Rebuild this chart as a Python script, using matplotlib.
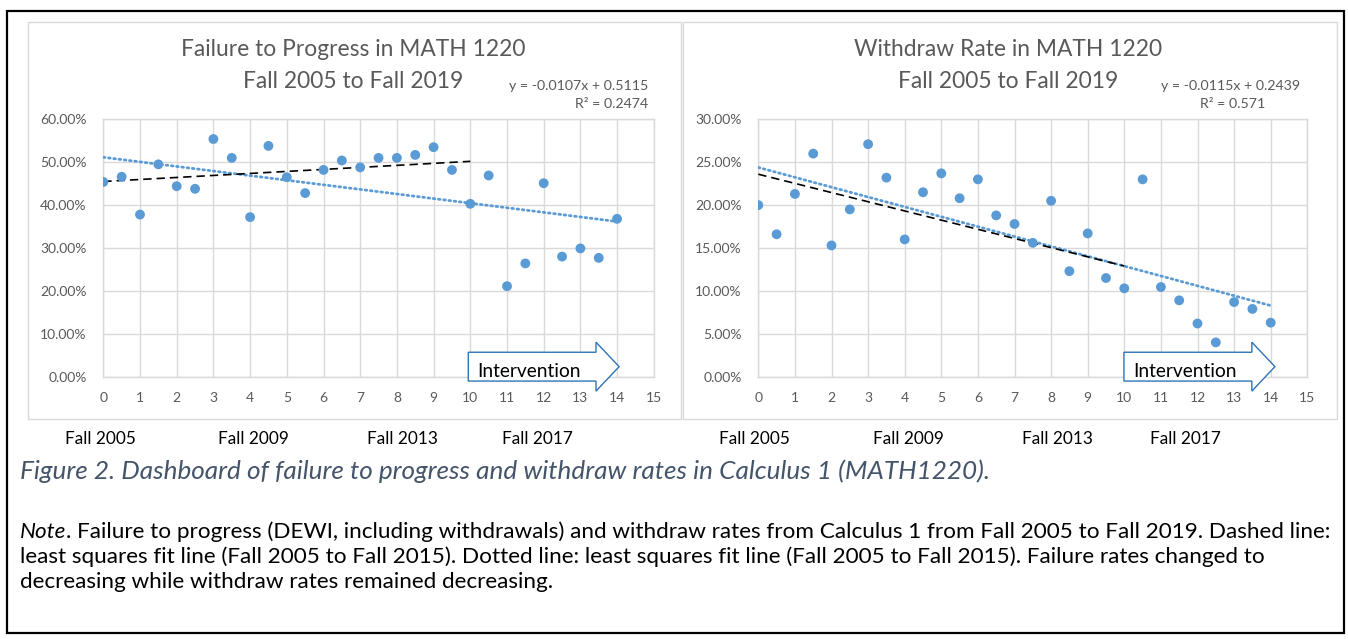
import numpy as np
import matplotlib
matplotlib.use("Agg")
import matplotlib.pyplot as plt
from matplotlib.patches import Rectangle, Polygon
from matplotlib.ticker import PercentFormatter, MultipleLocator

plt.rcParams['font.family'] = ['Lato', 'DejaVu Sans']

# ---------------- data ----------------
x_vals = [0, 0.5, 1, 1.5, 2, 2.5, 3, 3.5, 4, 4.5, 5, 5.5, 6, 6.5, 7, 7.5,
          8, 8.5, 9, 9.5, 10, 10.5, 11, 11.5, 12, 12.5, 13, 13.5, 14]
failure_rate = [45.4, 46.6, 37.8, 49.5, 44.4, 43.8, 55.4, 51.0, 37.2, 53.8,
                46.5, 42.8, 48.2, 50.4, 48.8, 51.0, 51.0, 51.7, 53.5, 48.2,
                40.3, 46.9, 21.1, 26.4, 45.1, 28.0, 29.9, 27.7, 36.8]
withdraw_rate = [20.0, 16.6, 21.3, 26.0, 15.3, 19.5, 27.1, 23.2, 16.0, 21.5,
                 23.7, 20.8, 23.0, 18.8, 17.8, 15.6, 20.5, 12.3, 16.7, 11.5,
                 10.3, 23.0, 10.45, 8.9, 6.2, 4.0, 8.7, 7.9, 6.3]
# dotted trendline equations shown on chart (slope, intercept; fraction units)
fail_trend = (-0.0107, 0.5115)
fail_r2 = "0.2474"
wd_trend = (-0.0115, 0.2439)
wd_r2 = "0.571"
# dashed least squares fit lines (Fall 2005 to Fall 2015)
fail_pre_fit = (0.0047, 0.455)
wd_pre_fit = (-0.0107, 0.236)
pre_range = (0, 10)
trend_range = (0, 14)
fall_labels = ["Fall 2005", "Fall 2009", "Fall 2013", "Fall 2017"]
titles = [("Failure to Progress in MATH 1220", "Fall 2005 to Fall 2019"),
          ("Withdraw Rate in MATH 1220", "Fall 2005 to Fall 2019")]
caption = "Figure 2. Dashboard of failure to progress and withdraw rates in Calculus 1 (MATH1220)."
note_lines = [". Failure to progress (DEWI, including withdrawals) and withdraw rates from Calculus 1 from Fall 2005 to Fall 2019. Dashed line:",
              "least squares fit line (Fall 2005 to Fall 2015). Dotted line: least squares fit line (Fall 2005 to Fall 2015). Failure rates changed to",
              "decreasing while withdraw rates remained decreasing."]

# ---------------- layout ----------------
W, H = 1348, 639
fig = plt.figure(figsize=(W / 100, H / 100), dpi=100)

def fx(px):
    return px / W

def fy(py):
    return 1 - py / H

# outer black frame
fig.patches.append(Rectangle((fx(7), fy(633)), fx(1344) - fx(7), fy(11) - fy(633),
                             transform=fig.transFigure, fill=False, ec='black', lw=1.6))
# chart boxes
for (x0, x1) in [(28, 681), (683, 1337)]:
    fig.patches.append(Rectangle((fx(x0), fy(419)), fx(x1) - fx(x0), fy(22) - fy(419),
                                 transform=fig.transFigure, fill=False, ec='#D9D9D9', lw=1.0))

GRID = '#D9D9D9'
TXT = '#595959'
BLUE = '#5B9BD5'

x_arr = np.array(x_vals)

def make_panel(left_px, right_px, yvals, ymax, ystep, trend, pre_fit, title, eq_x, arrow):
    ax = fig.add_axes([fx(left_px), fy(376.7), fx(right_px) - fx(left_px), fy(119.3) - fy(376.7)])
    y = np.array(yvals) / 100.0
    ax.set_xlim(0, 15)
    ax.set_ylim(0, ymax)
    ax.xaxis.set_major_locator(MultipleLocator(1))
    ax.yaxis.set_major_locator(MultipleLocator(ystep))
    ax.yaxis.set_major_formatter(PercentFormatter(1.0, decimals=2))
    ax.grid(True, color=GRID, lw=1.0)
    ax.set_axisbelow(True)
    for s in ax.spines.values():
        s.set_color(GRID)
        s.set_linewidth(1.0)
    ax.tick_params(axis='y', length=0, colors=TXT, labelsize=10, pad=12)
    ax.tick_params(axis='x', length=0, colors=TXT, labelsize=10, pad=11)
    # dotted trend (all data)
    xs = np.array(trend_range)
    ax.plot(xs, trend[0] * xs + trend[1], color=BLUE, lw=2.0, ls=(0, (0.6, 1.3)),
            dash_capstyle='round', zorder=3)
    # dashed least squares fit, Fall 2005 - Fall 2015
    xd = np.array(pre_range)
    ax.plot(xd, pre_fit[0] * xd + pre_fit[1], color='black', lw=1.2, ls=(0, (5, 3)), zorder=3)
    ax.scatter(x_arr, y, s=50, color=BLUE, edgecolors='none', zorder=4)
    # intervention arrow (axes fraction)
    bx0, bx1, tip = arrow
    yc, bh, hh = 0.039, 0.056, 0.095
    pts = [(bx0, yc + bh), (bx1, yc + bh), (bx1, yc + hh), (tip, yc), (bx1, yc - hh),
           (bx1, yc - bh), (bx0, yc - bh)]
    ax.add_patch(Polygon(pts, closed=True, transform=ax.transAxes, fc='white',
                         ec='#2E75B6', lw=1.0, clip_on=False, zorder=6))
    ax.text((bx0 + bx1) / 2 - 0.005, yc - 0.02, "Intervention", transform=ax.transAxes,
            ha='center', va='center', fontsize=13.8, color='black', zorder=7, clip_on=False)
    # titles
    cx = (left_px + right_px) / 2 - 25
    fig.text(fx(cx), fy(50), title[0], ha='center', va='center', fontsize=16.4, color=TXT)
    fig.text(fx(cx), fy(82), title[1], ha='center', va='center', fontsize=16.4, color=TXT)
    eq = f"y = {trend[0]:.4f}x + {trend[1]:.4f}"
    fig.text(fx(eq_x), fy(86), eq, ha='right', va='center', fontsize=10.2, color=TXT)
    return ax

ax1 = make_panel(103.3, 653.8, failure_rate, 0.60, 0.10, fail_trend, fail_pre_fit,
                 titles[0], 648, (0.663, 0.895, 0.937))
ax2 = make_panel(758.3, 1307.3, withdraw_rate, 0.30, 0.05, wd_trend, wd_pre_fit,
                 titles[1], 1300, (0.666, 0.899, 0.941))

fig.text(fx(648), fy(104), f"R² = {fail_r2}", ha='right', va='center', fontsize=10.2, color=TXT)
fig.text(fx(1265), fy(104), f"R² = {wd_r2}", ha='right', va='center', fontsize=10.2, color=TXT)

# Fall labels under charts
for lab, cx in zip(fall_labels, [100, 253, 402, 537]):
    fig.text(fx(cx), fy(439), lab, ha='center', va='center', fontsize=12.4, color='black')
for lab, cx in zip(fall_labels, [754, 908, 1057, 1185]):
    fig.text(fx(cx), fy(439), lab, ha='center', va='center', fontsize=12.4, color='black')

# caption
fig.text(fx(20), fy(471), caption, ha='left', va='center', fontsize=18.8, style='italic',
         color='#44546A')

# note
NOTE_FS = 16.2
t0 = fig.text(fx(20), fy(532), "Note", ha='left', va='center', fontsize=NOTE_FS,
              style='italic', color='black')
note_first = plt.Annotation(note_lines[0], xy=(1, 0.5), xycoords=t0, ha='left', va='center',
                            fontsize=NOTE_FS, color='black')
fig.add_artist(note_first)
fig.text(fx(20), fy(557), note_lines[1], ha='left', va='center', fontsize=NOTE_FS, color='black')
fig.text(fx(20), fy(582), note_lines[2], ha='left', va='center', fontsize=NOTE_FS, color='black')

fig.savefig("out.png", dpi=100)
